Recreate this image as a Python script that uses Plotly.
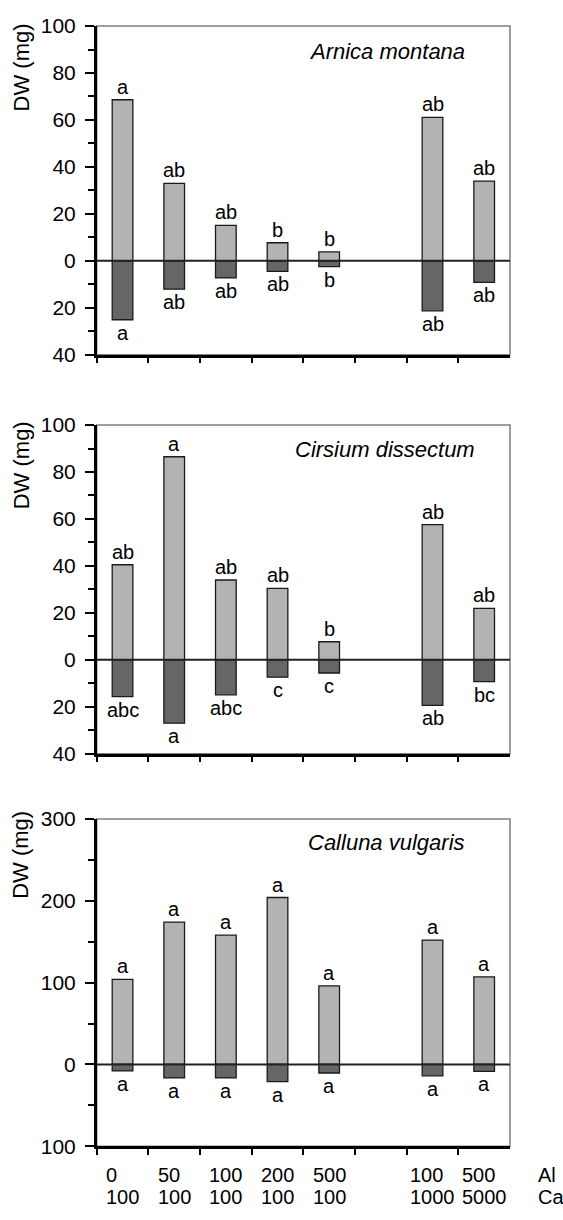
import plotly.graph_objects as go

# ---------------- data ----------------
al_levels = ["0", "50", "100", "200", "500", "100", "500"]
ca_levels = ["100", "100", "100", "100", "100", "1000", "5000"]
treatments = [f"{a}/{c}" for a, c in zip(al_levels, ca_levels)]
GAP = " "
category_order = treatments[:5] + [GAP] + treatments[5:]

species = ["Arnica montana", "Cirsium dissectum", "Calluna vulgaris"]

shoot_arnica = [68.6, 33.0, 15.1, 7.7, 3.8, 61.1, 33.9]
root_arnica = [25.1, 12.1, 7.3, 4.5, 2.5, 21.3, 9.2]
shoot_letters_arnica = ["a", "ab", "ab", "b", "b", "ab", "ab"]
root_letters_arnica = ["a", "ab", "ab", "ab", "b", "ab", "ab"]

shoot_cirsium = [40.5, 86.5, 34.0, 30.4, 7.7, 57.6, 21.9]
root_cirsium = [15.7, 27.0, 14.9, 7.4, 5.6, 19.4, 9.3]
shoot_letters_cirsium = ["ab", "a", "ab", "ab", "b", "ab", "ab"]
root_letters_cirsium = ["abc", "a", "abc", "c", "c", "ab", "bc"]

shoot_calluna = [104, 174, 158, 204, 96, 152, 107]
root_calluna = [8, 16.5, 16.5, 21, 10.5, 14, 8.5]
shoot_letters_calluna = ["a", "a", "a", "a", "a", "a", "a"]
root_letters_calluna = ["a", "a", "a", "a", "a", "a", "a"]

y_ranges = [(-40, 100), (-40, 100), (-100, 300)]
y_major = [[-40, -20, 0, 20, 40, 60, 80, 100],
           [-40, -20, 0, 20, 40, 60, 80, 100],
           [-100, 0, 100, 200, 300]]
y_minor = [10, 10, 50]

panels = [
    (shoot_arnica, root_arnica, shoot_letters_arnica, root_letters_arnica),
    (shoot_cirsium, root_cirsium, shoot_letters_cirsium, root_letters_cirsium),
    (shoot_calluna, root_calluna, shoot_letters_calluna, root_letters_calluna),
]

# ---------------- layout geometry (pixels) ----------------
W, H = 563, 1220
x_left, x_right = 96.7, 510.0
panel_px = [(14.3, 349.3), (421.0, 756.0), (822.5, 1156.0)]  # top, bottom
ytitle_center = [56.5, 462.0, 859.0]
species_pos = [(386.5, 40.0), (385.0, 446.0), (386.5, 846.7)]
al_row_y, ca_row_y = 1185.0, 1208.0

LIGHT = "#b3b3b3"
DARK = "#666666"
FONT = "Liberation Sans, Arial, sans-serif"

fig = go.Figure()
annotations = []
shapes = []

for i, (shoot, root, sl, rl) in enumerate(panels):
    n = i + 1
    xa = "x" if n == 1 else f"x{n}"
    ya = "y" if n == 1 else f"y{n}"
    # invisible helper so the gap category exists on the axis
    fig.add_trace(go.Scatter(x=category_order, y=[0] * len(category_order), mode="markers",
                             marker=dict(opacity=0), hoverinfo="skip", showlegend=False,
                             xaxis=xa, yaxis=ya))
    fig.add_trace(go.Bar(x=treatments, y=shoot, width=0.4, marker=dict(color=LIGHT,
                         line=dict(color="#1a1a1a", width=1.3)), showlegend=False,
                         xaxis=xa, yaxis=ya))
    fig.add_trace(go.Bar(x=treatments, y=[-v for v in root], width=0.4, marker=dict(color=DARK,
                         line=dict(color="#1a1a1a", width=1.3)), showlegend=False,
                         xaxis=xa, yaxis=ya))
    for t, v, s in zip(treatments, shoot, sl):
        annotations.append(dict(x=t, y=v, xref=xa, yref=ya, text=s, showarrow=False,
                                xanchor="center", yanchor="bottom", yshift=0,
                                font=dict(size=20, color="black", family=FONT)))
    for t, v, s in zip(treatments, root, rl):
        annotations.append(dict(x=t, y=-v, xref=xa, yref=ya, text=s, showarrow=False,
                                xanchor="center", yanchor="top", yshift=0,
                                font=dict(size=20, color="black", family=FONT)))

    top, bot = panel_px[i]
    dom_y = [(H - bot) / H, (H - top) / H]
    dom_x = [x_left / W, x_right / W]
    lo, hi = y_ranges[i]
    yaxis = dict(domain=dom_y, range=[lo, hi], tickvals=y_major[i],
                 ticktext=[str(abs(v)) for v in y_major[i]], ticks="outside", ticklen=9,
                 tickwidth=2, tickcolor="black", showline=True, linecolor="black", linewidth=2.5,
                 showgrid=False, zeroline=False, anchor=xa, ticklabelstandoff=5,
                 tickfont=dict(size=21, color="black", family=FONT),
                 minor=dict(dtick=y_minor[i], tick0=0, ticks="outside", ticklen=6, tickwidth=2,
                            tickcolor="black", showgrid=False))
    xaxis = dict(domain=dom_x, type="category", categoryorder="array", categoryarray=category_order,
                 range=[-0.5, len(category_order) - 0.5], tickson="boundaries", ticks="outside",
                 ticklen=6, tickwidth=2, tickcolor="black", showticklabels=False,
                 showline=True, linecolor="black", linewidth=2.5, showgrid=False, zeroline=False,
                 anchor=ya)
    fig.layout["yaxis" if n == 1 else f"yaxis{n}"] = yaxis
    fig.layout["xaxis" if n == 1 else f"xaxis{n}"] = xaxis

    # frame (thin gray top/right)
    shapes.append(dict(type="rect", xref=f"{xa} domain", yref=f"{ya} domain", x0=0, x1=1, y0=0, y1=1,
                       line=dict(color="#808080", width=1.5), layer="below"))
    # zero line
    shapes.append(dict(type="line", xref=f"{xa} domain", yref=ya, x0=0, x1=1, y0=0, y1=0,
                       line=dict(color="#222222", width=2), layer="above"))
    # y title
    annotations.append(dict(x=21 / W, y=(H - ytitle_center[i]) / H, xref="paper", yref="paper",
                            text="DW (mg)", textangle=-90, showarrow=False,
                            xanchor="center", yanchor="middle",
                            font=dict(size=22, color="black", family=FONT)))
    # species name
    sx, sy = species_pos[i]
    annotations.append(dict(x=sx / W, y=(H - sy) / H, xref="paper", yref="paper",
                            text=f"<i>{species[i]}</i>", showarrow=False,
                            xanchor="center", yanchor="middle",
                            font=dict(size=22, color="black", family=FONT)))

# bottom treatment labels (block centred under each bar, rows left-aligned)
for t, a, c in zip(treatments, al_levels, ca_levels):
    width = max(len(a), len(c))
    annotations.append(dict(x=t, y=(H - al_row_y) / H, xref="x3", yref="paper",
                            text=a + "\u2007" * (width - len(a)),
                            xanchor="center", yanchor="middle", showarrow=False,
                            font=dict(size=20, color="black", family=FONT)))
    annotations.append(dict(x=t, y=(H - ca_row_y) / H, xref="x3", yref="paper",
                            text=c + "\u2007" * (width - len(c)),
                            xanchor="center", yanchor="middle", showarrow=False,
                            font=dict(size=20, color="black", family=FONT)))
for txt, ry in (("Al", al_row_y), ("Ca", ca_row_y)):
    annotations.append(dict(x=536 / W, y=(H - ry) / H, xref="paper", yref="paper", text=txt,
                            xanchor="left", yanchor="middle", showarrow=False,
                            font=dict(size=20, color="black", family=FONT)))

fig.update_layout(width=W, height=H, margin=dict(l=0, r=0, t=0, b=0),
                  paper_bgcolor="white", plot_bgcolor="white", barmode="relative",
                  annotations=annotations, shapes=shapes, showlegend=False,
                  font=dict(family=FONT, color="black"))

fig.write_html("out.html")
